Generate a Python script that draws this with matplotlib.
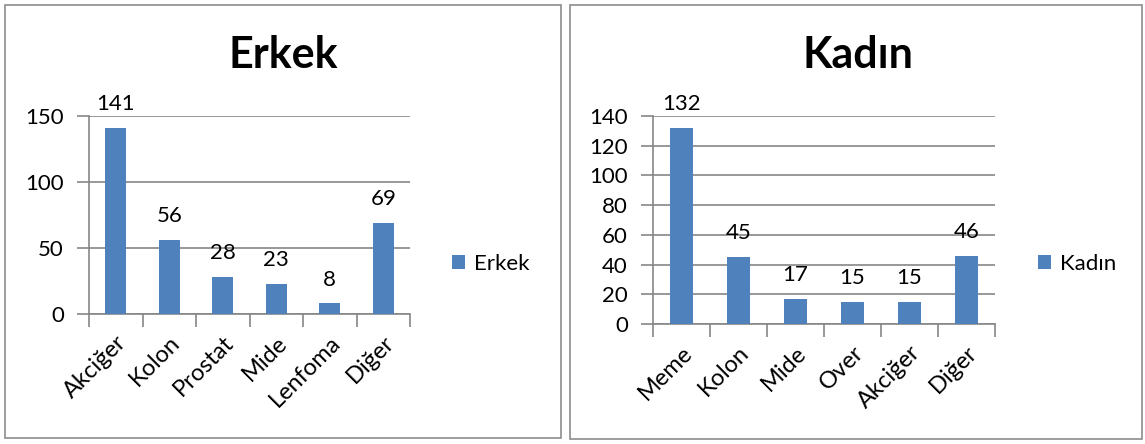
import matplotlib
matplotlib.use("Agg")
import matplotlib.pyplot as plt
from matplotlib.patches import Rectangle
import numpy as np

plt.rcParams['font.family'] = ['Lato', 'DejaVu Sans']

erkek_labels = ["Akciğer", "Kolon", "Prostat", "Mide", "Lenfoma", "Diğer"]
erkek_values = [141, 56, 28, 23, 8, 69]
erkek_yticks = [0, 50, 100, 150]

kadin_labels = ["Meme", "Kolon", "Mide", "Over", "Akciğer", "Diğer"]
kadin_values = [132, 45, 17, 15, 15, 46]
kadin_yticks = [0, 20, 40, 60, 80, 100, 120, 140]

BAR = "#4F81BD"
GRID = "#868686"
W, H = 1145, 444
FS = 16

fig = plt.figure(figsize=(W / 100, H / 100), dpi=100)

# panel borders (pixel coords -> figure fraction)
def frame(x0, y0, x1, y1):
    fig.patches.append(Rectangle((x0 / W, 1 - y1 / H), (x1 - x0) / W, (y1 - y0) / H,
                                 transform=fig.transFigure, fill=False,
                                 edgecolor="#8c8c8c", linewidth=1.2))

frame(5, 5, 561, 438)
frame(570, 5, 1142, 439)


def panel(rect, labels, values, yticks, title, title_x, legend_x):
    ax = fig.add_axes(rect)
    x = np.arange(len(labels))
    bars = ax.bar(x, values, width=0.4, color=BAR, label=title, zorder=3)
    ax.bar_label(bars, padding=10, fontsize=FS)
    ax.set_xlim(-0.5, len(labels) - 0.5)
    ax.set_ylim(yticks[0], yticks[-1])
    ax.set_yticks(yticks)
    ax.set_xticks(x)
    ax.set_xticklabels(labels, rotation=45, ha="right", rotation_mode="anchor", fontsize=17)
    ax.set_xticks(np.arange(-0.5, len(labels)), minor=True)
    ax.tick_params(axis="x", which="major", length=0, pad=13)
    ax.tick_params(axis="x", which="minor", length=9, color=GRID, width=1.2, direction="out")
    ax.tick_params(axis="y", length=9, color=GRID, width=1.2, labelsize=FS, pad=9)
    ax.grid(axis="y", color=GRID, linewidth=1.2, zorder=0)
    for s in ["top", "right"]:
        ax.spines[s].set_visible(False)
    for s in ["left", "bottom"]:
        ax.spines[s].set_color(GRID)
        ax.spines[s].set_linewidth(1.2)
    fig.text(title_x / W, 1 - 55 / H, title, fontsize=31, fontweight="bold",
             ha="center", va="center")
    ax.legend(loc="center left", bbox_to_anchor=(legend_x / W, 1 - 264 / H),
              bbox_transform=fig.transFigure, frameon=False, fontsize=FS,
              handlelength=0.6, handleheight=0.6, handletextpad=0.4,
              borderpad=0, borderaxespad=0)
    return ax


panel([89 / W, (H - 314) / H, 321 / W, 198 / H], erkek_labels, erkek_values,
      erkek_yticks, "Erkek", 283, 452)
panel([653 / W, (H - 324) / H, 342 / W, 208 / H], kadin_labels, kadin_values,
      kadin_yticks, "Kadın", 858, 1038)

fig.savefig("out.png", dpi=100)
